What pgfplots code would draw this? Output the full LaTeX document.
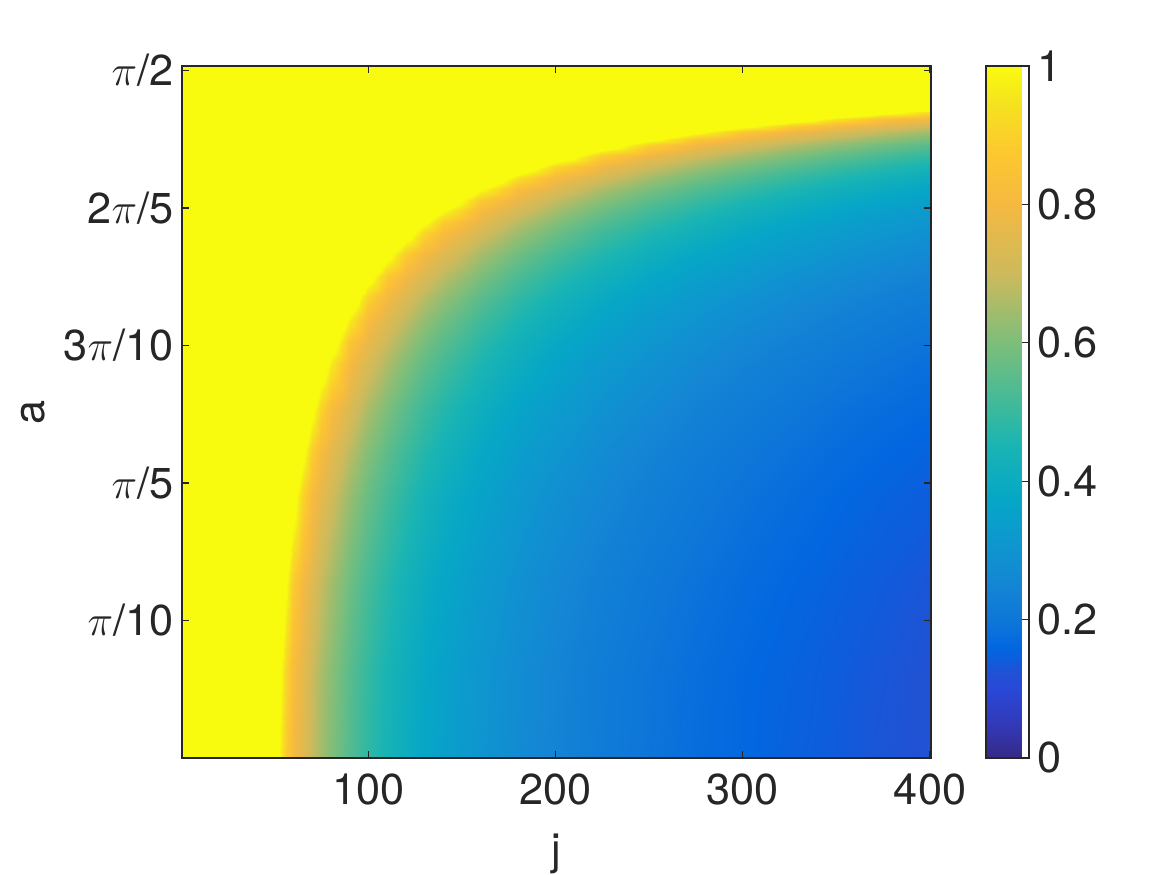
\documentclass[border=0pt]{standalone}
\usepackage{fontspec}
\setmainfont{TeX Gyre Heros}
\usepackage{pgfplots}
\pgfplotsset{compat=1.18}
\definecolor{axisgray}{RGB}{38,38,38}
\begin{document}
\begin{tikzpicture}
\useasboundingbox (0,0) rectangle (466.8pt,350pt);
\begin{axis}[
  at={(72.8pt,46.8pt)}, anchor=south west,
  scale only axis, width=299.6pt, height=276.8pt,
  xmin=0.5, xmax=400.5, ymin=0, ymax=1.581,
  xtick={100,200,300,400},
  ytick={0.314159,0.628319,0.942478,1.256637,1.570796},
  yticklabels={{$\pi$/10},{$\pi$/5},{3$\pi$/10},{2$\pi$/5},{$\pi$/2}},
  tick align=inside, major tick length=2.8pt,
  axis line style={axisgray, line width=0.5pt},
  every tick/.style={axisgray, line width=0.5pt},
  tick label style={font=\fontsize{17.3}{20}\selectfont, text=axisgray},
  label style={font=\fontsize{17.3}{20}\selectfont, text=axisgray},
  xticklabel style={yshift=-3pt},
  xlabel={j}, ylabel={a},
  xlabel style={at={(axis description cs:0.5,-0.1532)}, anchor=base},
  ylabel style={at={(axis description cs:-0.1833,0.5)}, anchor=base},
  /pgf/number format/assume math mode=true,
  % parula; the part above 1 is flat yellow (saturated cells)
  colormap={parula}{rgb255(0cm)=(53,42,135); rgb255(0.5cm)=(50,58,185); rgb255(1cm)=(40,72,215); rgb255(1.25cm)=(32,82,212); rgb255(1.4cm)=(15,92,220); rgb255(1.6cm)=(2,103,224); rgb255(2cm)=(14,119,216); rgb255(2.5cm)=(20,133,212); rgb255(3cm)=(15,148,208); rgb255(3.75cm)=(6,167,198); rgb255(4.5cm)=(25,180,180); rgb255(5cm)=(56,185,158); rgb255(6cm)=(125,190,122); rgb255(7cm)=(205,186,92); rgb255(8cm)=(245,185,65); rgb255(8.75cm)=(252,200,48); rgb255(9.5cm)=(245,228,30); rgb255(10cm)=(249,251,14); rgb255(13cm)=(249,251,14)},
  point meta min=0, point meta max=1.3,
  colorbar,
  colorbar style={
    at={(1.0734,1)}, anchor=north west, width=17.2pt,
    ymin=0, ymax=1,
    ytick={0,0.2,0.4,0.6,0.8,1},
    ytick pos=right, yticklabel pos=right,
    tick align=inside, major tick length=2.8pt,
    axis line style={axisgray, line width=0.5pt},
    every tick/.style={axisgray, line width=0.5pt},
    tick label style={font=\fontsize{17.3}{20}\selectfont, text=axisgray},
    /pgf/number format/assume math mode=true,
  },
  axis on top,
]
\addplot[surf, shader=interp, mesh/cols=26, point meta=explicit] coordinates {
(0.5,0)[1.3] (48,0)[1.171] (52,0)[1.015] (56,0)[.882] (60,0)[.808] (65,0)[.746] (70,0)[.693] (75,0)[.647] (80,0)[.606] (90,0)[.539] (100,0)[.485] (110,0)[.441] (120,0)[.404] (130,0)[.373] (140,0)[.346] (160,0)[.303] (180,0)[.269] (200,0)[.243] (225,0)[.216] (250,0)[.194] (275,0)[.176] (300,0)[.162] (325,0)[.149] (350,0)[.139] (375,0)[.129] (400.5,0)[.121]
(0.5,0.2)[1.3] (48,0.2)[1.206] (52,0.2)[1.048] (56,0.2)[.912] (60,0.2)[.822] (65,0.2)[.759] (70,0.2)[.705] (75,0.2)[.658] (80,0.2)[.617] (90,0.2)[.548] (100,0.2)[.493] (110,0.2)[.449] (120,0.2)[.411] (130,0.2)[.380] (140,0.2)[.352] (160,0.2)[.308] (180,0.2)[.274] (200,0.2)[.247] (225,0.2)[.219] (250,0.2)[.197] (275,0.2)[.179] (300,0.2)[.164] (325,0.2)[.152] (350,0.2)[.141] (375,0.2)[.132] (400.5,0.2)[.123]
(0.5,0.4)[1.3] (48,0.4)[1.3] (52,0.4)[1.150] (56,0.4)[1.008] (60,0.4)[.884] (65,0.4)[.800] (70,0.4)[.743] (75,0.4)[.693] (80,0.4)[.650] (90,0.4)[.578] (100,0.4)[.520] (110,0.4)[.473] (120,0.4)[.433] (130,0.4)[.400] (140,0.4)[.372] (160,0.4)[.325] (180,0.4)[.289] (200,0.4)[.260] (225,0.4)[.231] (250,0.4)[.208] (275,0.4)[.189] (300,0.4)[.173] (325,0.4)[.160] (350,0.4)[.149] (375,0.4)[.139] (400.5,0.4)[.130]
(0.5,0.6)[1.3] (48,0.6)[1.3] (52,0.6)[1.3] (56,0.6)[1.189] (60,0.6)[1.053] (65,0.6)[.907] (70,0.6)[.816] (75,0.6)[.761] (80,0.6)[.714] (90,0.6)[.634] (100,0.6)[.571] (110,0.6)[.519] (120,0.6)[.476] (130,0.6)[.439] (140,0.6)[.408] (160,0.6)[.357] (180,0.6)[.317] (200,0.6)[.285] (225,0.6)[.254] (250,0.6)[.228] (275,0.6)[.208] (300,0.6)[.190] (325,0.6)[.176] (350,0.6)[.163] (375,0.6)[.152] (400.5,0.6)[.143]
(0.5,0.7)[1.3] (48,0.7)[1.3] (52,0.7)[1.3] (56,0.7)[1.3] (60,0.7)[1.180] (65,0.7)[1.024] (70,0.7)[.890] (75,0.7)[.812] (80,0.7)[.761] (90,0.7)[.677] (100,0.7)[.609] (110,0.7)[.554] (120,0.7)[.508] (130,0.7)[.469] (140,0.7)[.435] (160,0.7)[.381] (180,0.7)[.338] (200,0.7)[.305] (225,0.7)[.271] (250,0.7)[.244] (275,0.7)[.221] (300,0.7)[.203] (325,0.7)[.187] (350,0.7)[.174] (375,0.7)[.162] (400.5,0.7)[.152]
(0.5,0.8)[1.3] (48,0.8)[1.3] (52,0.8)[1.3] (56,0.8)[1.3] (60,0.8)[1.3] (65,0.8)[1.179] (70,0.8)[1.034] (75,0.8)[.908] (80,0.8)[.824] (90,0.8)[.733] (100,0.8)[.659] (110,0.8)[.599] (120,0.8)[.550] (130,0.8)[.507] (140,0.8)[.471] (160,0.8)[.412] (180,0.8)[.366] (200,0.8)[.330] (225,0.8)[.293] (250,0.8)[.264] (275,0.8)[.240] (300,0.8)[.220] (325,0.8)[.203] (350,0.8)[.188] (375,0.8)[.176] (400.5,0.8)[.165]
(0.5,0.9)[1.3] (48,0.9)[1.3] (52,0.9)[1.3] (56,0.9)[1.3] (60,0.9)[1.3] (65,0.9)[1.3] (70,0.9)[1.226] (75,0.9)[1.087] (80,0.9)[.966] (90,0.9)[.807] (100,0.9)[.727] (110,0.9)[.660] (120,0.9)[.605] (130,0.9)[.559] (140,0.9)[.519] (160,0.9)[.454] (180,0.9)[.404] (200,0.9)[.363] (225,0.9)[.323] (250,0.9)[.291] (275,0.9)[.264] (300,0.9)[.242] (325,0.9)[.224] (350,0.9)[.208] (375,0.9)[.194] (400.5,0.9)[.181]
(0.5,0.95)[1.3] (48,0.95)[1.3] (52,0.95)[1.3] (56,0.95)[1.3] (60,0.95)[1.3] (65,0.95)[1.3] (70,0.95)[1.3] (75,0.95)[1.200] (80,0.95)[1.072] (90,0.95)[.858] (100,0.95)[.769] (110,0.95)[.699] (120,0.95)[.641] (130,0.95)[.591] (140,0.95)[.549] (160,0.95)[.480] (180,0.95)[.427] (200,0.95)[.384] (225,0.95)[.342] (250,0.95)[.307] (275,0.95)[.280] (300,0.95)[.256] (325,0.95)[.237] (350,0.95)[.220] (375,0.95)[.205] (400.5,0.95)[.192]
(0.5,1.0)[1.3] (48,1.0)[1.3] (52,1.0)[1.3] (56,1.0)[1.3] (60,1.0)[1.3] (65,1.0)[1.3] (70,1.0)[1.3] (75,1.0)[1.3] (80,1.0)[1.196] (90,1.0)[.969] (100,1.0)[.818] (110,1.0)[.744] (120,1.0)[.682] (130,1.0)[.630] (140,1.0)[.585] (160,1.0)[.512] (180,1.0)[.455] (200,1.0)[.409] (225,1.0)[.364] (250,1.0)[.327] (275,1.0)[.298] (300,1.0)[.273] (325,1.0)[.252] (350,1.0)[.234] (375,1.0)[.218] (400.5,1.0)[.204]
(0.5,1.05)[1.3] (48,1.05)[1.3] (52,1.05)[1.3] (56,1.05)[1.3] (60,1.05)[1.3] (65,1.05)[1.3] (70,1.05)[1.3] (75,1.05)[1.3] (80,1.05)[1.3] (90,1.05)[1.101] (100,1.05)[.906] (110,1.05)[.798] (120,1.05)[.732] (130,1.05)[.675] (140,1.05)[.627] (160,1.05)[.549] (180,1.05)[.488] (200,1.05)[.439] (225,1.05)[.390] (250,1.05)[.351] (275,1.05)[.319] (300,1.05)[.293] (325,1.05)[.270] (350,1.05)[.251] (375,1.05)[.234] (400.5,1.05)[.219]
(0.5,1.1)[1.3] (48,1.1)[1.3] (52,1.1)[1.3] (56,1.1)[1.3] (60,1.1)[1.3] (65,1.1)[1.3] (70,1.1)[1.3] (75,1.1)[1.3] (80,1.1)[1.3] (90,1.1)[1.260] (100,1.1)[1.049] (110,1.1)[.877] (120,1.1)[.791] (130,1.1)[.731] (140,1.1)[.678] (160,1.1)[.594] (180,1.1)[.528] (200,1.1)[.475] (225,1.1)[.422] (250,1.1)[.380] (275,1.1)[.345] (300,1.1)[.317] (325,1.1)[.292] (350,1.1)[.271] (375,1.1)[.253] (400.5,1.1)[.237]
(0.5,1.15)[1.3] (48,1.15)[1.3] (52,1.15)[1.3] (56,1.15)[1.3] (60,1.15)[1.3] (65,1.15)[1.3] (70,1.15)[1.3] (75,1.15)[1.3] (80,1.15)[1.3] (90,1.15)[1.3] (100,1.15)[1.226] (110,1.15)[1.037] (120,1.15)[.880] (130,1.15)[.799] (140,1.15)[.742] (160,1.15)[.649] (180,1.15)[.577] (200,1.15)[.519] (225,1.15)[.461] (250,1.15)[.415] (275,1.15)[.377] (300,1.15)[.346] (325,1.15)[.319] (350,1.15)[.297] (375,1.15)[.277] (400.5,1.15)[.259]
(0.5,1.2)[1.3] (48,1.2)[1.3] (52,1.2)[1.3] (56,1.2)[1.3] (60,1.2)[1.3] (65,1.2)[1.3] (70,1.2)[1.3] (75,1.2)[1.3] (80,1.2)[1.3] (90,1.2)[1.3] (100,1.2)[1.3] (110,1.2)[1.240] (120,1.2)[1.066] (130,1.2)[.918] (140,1.2)[.821] (160,1.2)[.718] (180,1.2)[.639] (200,1.2)[.575] (225,1.2)[.511] (250,1.2)[.460] (275,1.2)[.418] (300,1.2)[.383] (325,1.2)[.354] (350,1.2)[.328] (375,1.2)[.307] (400.5,1.2)[.287]
(0.5,1.225)[1.3] (48,1.225)[1.3] (52,1.225)[1.3] (56,1.225)[1.3] (60,1.225)[1.3] (65,1.225)[1.3] (70,1.225)[1.3] (75,1.225)[1.3] (80,1.225)[1.3] (90,1.225)[1.3] (100,1.225)[1.3] (110,1.225)[1.3] (120,1.225)[1.177] (130,1.225)[1.021] (140,1.225)[.888] (160,1.225)[.760] (180,1.225)[.676] (200,1.225)[.608] (225,1.225)[.541] (250,1.225)[.487] (275,1.225)[.442] (300,1.225)[.405] (325,1.225)[.374] (350,1.225)[.348] (375,1.225)[.324] (400.5,1.225)[.304]
(0.5,1.25)[1.3] (48,1.25)[1.3] (52,1.25)[1.3] (56,1.25)[1.3] (60,1.25)[1.3] (65,1.25)[1.3] (70,1.25)[1.3] (75,1.25)[1.3] (80,1.25)[1.3] (90,1.25)[1.3] (100,1.25)[1.3] (110,1.25)[1.3] (120,1.25)[1.3] (130,1.25)[1.140] (140,1.25)[.998] (160,1.25)[.808] (180,1.25)[.719] (200,1.25)[.647] (225,1.25)[.575] (250,1.25)[.517] (275,1.25)[.470] (300,1.25)[.431] (325,1.25)[.398] (350,1.25)[.370] (375,1.25)[.345] (400.5,1.25)[.323]
(0.5,1.275)[1.3] (48,1.275)[1.3] (52,1.275)[1.3] (56,1.275)[1.3] (60,1.275)[1.3] (65,1.275)[1.3] (70,1.275)[1.3] (75,1.275)[1.3] (80,1.275)[1.3] (90,1.275)[1.3] (100,1.275)[1.3] (110,1.275)[1.3] (120,1.275)[1.3] (130,1.275)[1.277] (140,1.275)[1.125] (160,1.275)[.879] (180,1.275)[.768] (200,1.275)[.691] (225,1.275)[.615] (250,1.275)[.553] (275,1.275)[.503] (300,1.275)[.461] (325,1.275)[.425] (350,1.275)[.395] (375,1.275)[.369] (400.5,1.275)[.345]
(0.5,1.3)[1.3] (48,1.3)[1.3] (52,1.3)[1.3] (56,1.3)[1.3] (60,1.3)[1.3] (65,1.3)[1.3] (70,1.3)[1.3] (75,1.3)[1.3] (80,1.3)[1.3] (90,1.3)[1.3] (100,1.3)[1.3] (110,1.3)[1.3] (120,1.3)[1.3] (130,1.3)[1.3] (140,1.3)[1.275] (160,1.3)[1.010] (180,1.3)[.827] (200,1.3)[.744] (225,1.3)[.661] (250,1.3)[.595] (275,1.3)[.541] (300,1.3)[.496] (325,1.3)[.458] (350,1.3)[.425] (375,1.3)[.397] (400.5,1.3)[.371]
(0.5,1.325)[1.3] (48,1.325)[1.3] (52,1.325)[1.3] (56,1.325)[1.3] (60,1.325)[1.3] (65,1.325)[1.3] (70,1.325)[1.3] (75,1.325)[1.3] (80,1.325)[1.3] (90,1.325)[1.3] (100,1.325)[1.3] (110,1.325)[1.3] (120,1.325)[1.3] (130,1.325)[1.3] (140,1.325)[1.3] (160,1.325)[1.166] (180,1.325)[.942] (200,1.325)[.806] (225,1.325)[.717] (250,1.325)[.645] (275,1.325)[.586] (300,1.325)[.538] (325,1.325)[.496] (350,1.325)[.461] (375,1.325)[.430] (400.5,1.325)[.403]
(0.5,1.35)[1.3] (48,1.35)[1.3] (52,1.35)[1.3] (56,1.35)[1.3] (60,1.35)[1.3] (65,1.35)[1.3] (70,1.35)[1.3] (75,1.35)[1.3] (80,1.35)[1.3] (90,1.35)[1.3] (100,1.35)[1.3] (110,1.35)[1.3] (120,1.35)[1.3] (130,1.35)[1.3] (140,1.35)[1.3] (160,1.35)[1.3] (180,1.35)[1.109] (200,1.35)[.913] (225,1.35)[.784] (250,1.35)[.705] (275,1.35)[.641] (300,1.35)[.588] (325,1.35)[.543] (350,1.35)[.504] (375,1.35)[.470] (400.5,1.35)[.440]
(0.5,1.375)[1.3] (48,1.375)[1.3] (52,1.375)[1.3] (56,1.375)[1.3] (60,1.375)[1.3] (65,1.375)[1.3] (70,1.375)[1.3] (75,1.375)[1.3] (80,1.375)[1.3] (90,1.375)[1.3] (100,1.375)[1.3] (110,1.375)[1.3] (120,1.375)[1.3] (130,1.375)[1.3] (140,1.375)[1.3] (160,1.375)[1.3] (180,1.375)[1.3] (200,1.375)[1.100] (225,1.375)[.884] (250,1.375)[.780] (275,1.375)[.709] (300,1.375)[.650] (325,1.375)[.600] (350,1.375)[.557] (375,1.375)[.520] (400.5,1.375)[.487]
(0.5,1.4)[1.3] (48,1.4)[1.3] (52,1.4)[1.3] (56,1.4)[1.3] (60,1.4)[1.3] (65,1.4)[1.3] (70,1.4)[1.3] (75,1.4)[1.3] (80,1.4)[1.3] (90,1.4)[1.3] (100,1.4)[1.3] (110,1.4)[1.3] (120,1.4)[1.3] (130,1.4)[1.3] (140,1.4)[1.3] (160,1.4)[1.3] (180,1.4)[1.3] (200,1.4)[1.3] (225,1.4)[1.094] (250,1.4)[.900] (275,1.4)[.795] (300,1.4)[.729] (325,1.4)[.673] (350,1.4)[.625] (375,1.4)[.583] (400.5,1.4)[.546]
(0.5,1.415)[1.3] (48,1.415)[1.3] (52,1.415)[1.3] (56,1.415)[1.3] (60,1.415)[1.3] (65,1.415)[1.3] (70,1.415)[1.3] (75,1.415)[1.3] (80,1.415)[1.3] (90,1.415)[1.3] (100,1.415)[1.3] (110,1.415)[1.3] (120,1.415)[1.3] (130,1.415)[1.3] (140,1.415)[1.3] (160,1.415)[1.3] (180,1.415)[1.3] (200,1.415)[1.3] (225,1.415)[1.251] (250,1.415)[1.041] (275,1.415)[.869] (300,1.415)[.788] (325,1.415)[.727] (350,1.415)[.675] (375,1.415)[.630] (400.5,1.415)[.590]
(0.5,1.43)[1.3] (48,1.43)[1.3] (52,1.43)[1.3] (56,1.43)[1.3] (60,1.43)[1.3] (65,1.43)[1.3] (70,1.43)[1.3] (75,1.43)[1.3] (80,1.43)[1.3] (90,1.43)[1.3] (100,1.43)[1.3] (110,1.43)[1.3] (120,1.43)[1.3] (130,1.43)[1.3] (140,1.43)[1.3] (160,1.43)[1.3] (180,1.43)[1.3] (200,1.43)[1.3] (225,1.43)[1.3] (250,1.43)[1.210] (275,1.43)[1.022] (300,1.43)[.866] (325,1.43)[.792] (350,1.43)[.736] (375,1.43)[.687] (400.5,1.43)[.643]
(0.5,1.445)[1.3] (48,1.445)[1.3] (52,1.445)[1.3] (56,1.445)[1.3] (60,1.445)[1.3] (65,1.445)[1.3] (70,1.445)[1.3] (75,1.445)[1.3] (80,1.445)[1.3] (90,1.445)[1.3] (100,1.445)[1.3] (110,1.445)[1.3] (120,1.445)[1.3] (130,1.445)[1.3] (140,1.445)[1.3] (160,1.445)[1.3] (180,1.445)[1.3] (200,1.445)[1.3] (225,1.445)[1.3] (250,1.445)[1.3] (275,1.445)[1.209] (300,1.445)[1.038] (325,1.445)[.892] (350,1.445)[.809] (375,1.445)[.755] (400.5,1.445)[.707]
(0.5,1.46)[1.3] (48,1.46)[1.3] (52,1.46)[1.3] (56,1.46)[1.3] (60,1.46)[1.3] (65,1.46)[1.3] (70,1.46)[1.3] (75,1.46)[1.3] (80,1.46)[1.3] (90,1.46)[1.3] (100,1.46)[1.3] (110,1.46)[1.3] (120,1.46)[1.3] (130,1.46)[1.3] (140,1.46)[1.3] (160,1.46)[1.3] (180,1.46)[1.3] (200,1.46)[1.3] (225,1.46)[1.3] (250,1.46)[1.3] (275,1.46)[1.3] (300,1.46)[1.252] (325,1.46)[1.090] (350,1.46)[.951] (375,1.46)[.841] (400.5,1.46)[.787]
(0.5,1.475)[1.3] (48,1.475)[1.3] (52,1.475)[1.3] (56,1.475)[1.3] (60,1.475)[1.3] (65,1.475)[1.3] (70,1.475)[1.3] (75,1.475)[1.3] (80,1.475)[1.3] (90,1.475)[1.3] (100,1.475)[1.3] (110,1.475)[1.3] (120,1.475)[1.3] (130,1.475)[1.3] (140,1.475)[1.3] (160,1.475)[1.3] (180,1.475)[1.3] (200,1.475)[1.3] (225,1.475)[1.3] (250,1.475)[1.3] (275,1.475)[1.3] (300,1.475)[1.3] (325,1.475)[1.3] (350,1.475)[1.188] (375,1.475)[1.052] (400.5,1.475)[.931]
(0.5,1.49)[1.3] (48,1.49)[1.3] (52,1.49)[1.3] (56,1.49)[1.3] (60,1.49)[1.3] (65,1.49)[1.3] (70,1.49)[1.3] (75,1.49)[1.3] (80,1.49)[1.3] (90,1.49)[1.3] (100,1.49)[1.3] (110,1.49)[1.3] (120,1.49)[1.3] (130,1.49)[1.3] (140,1.49)[1.3] (160,1.49)[1.3] (180,1.49)[1.3] (200,1.49)[1.3] (225,1.49)[1.3] (250,1.49)[1.3] (275,1.49)[1.3] (300,1.49)[1.3] (325,1.49)[1.3] (350,1.49)[1.3] (375,1.49)[1.3] (400.5,1.49)[1.208]
(0.5,1.581)[1.3] (48,1.581)[1.3] (52,1.581)[1.3] (56,1.581)[1.3] (60,1.581)[1.3] (65,1.581)[1.3] (70,1.581)[1.3] (75,1.581)[1.3] (80,1.581)[1.3] (90,1.581)[1.3] (100,1.581)[1.3] (110,1.581)[1.3] (120,1.581)[1.3] (130,1.581)[1.3] (140,1.581)[1.3] (160,1.581)[1.3] (180,1.581)[1.3] (200,1.581)[1.3] (225,1.581)[1.3] (250,1.581)[1.3] (275,1.581)[1.3] (300,1.581)[1.3] (325,1.581)[1.3] (350,1.581)[1.3] (375,1.581)[1.3] (400.5,1.581)[1.3]
};
\end{axis}
\end{tikzpicture}
\end{document}
